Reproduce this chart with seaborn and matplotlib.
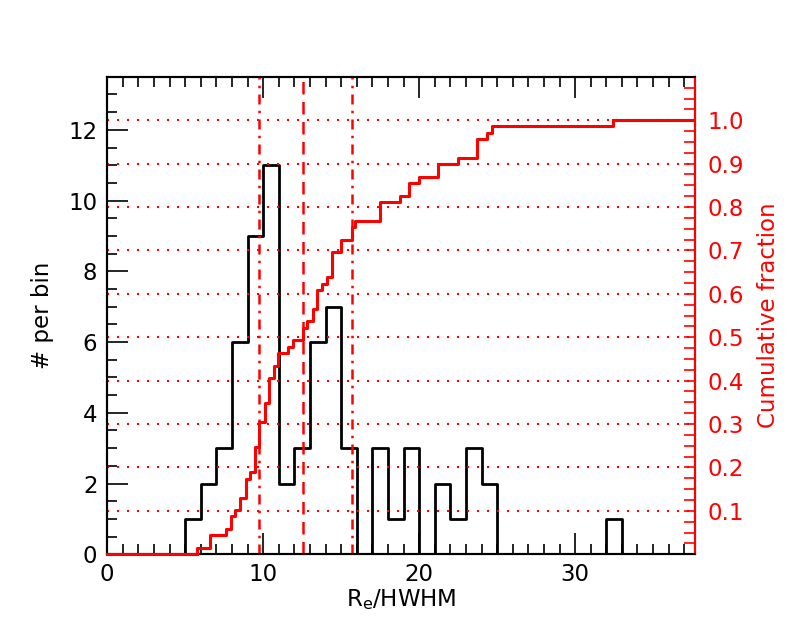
import numpy as np
import pandas as pd
import seaborn as sns
import matplotlib
matplotlib.use("Agg")
import matplotlib.pyplot as plt
from matplotlib.ticker import MultipleLocator

re_values = [5.75, 6.60, 7.63, 7.93, 8.21, 8.53, 8.87, 9.17, 9.45, 9.76,
             10.09, 10.40, 10.70, 10.95, 11.60, 11.90, 12.55, 12.84, 13.18, 13.48,
             13.76, 14.08, 14.40, 14.97, 15.68, 15.90, 17.50, 18.78, 19.38, 19.98,
             21.24, 22.48, 23.70, 24.34, 24.66, 32.40]
re_counts = [1, 2, 1, 2, 1, 2, 3, 1, 4, 4,
             3, 4, 2, 2, 1, 1, 2, 1, 2, 3,
             1, 1, 4, 2, 2, 1, 3, 1, 2, 1,
             2, 1, 3, 1, 1, 1]

x_ticks = [0, 10, 20, 30]
left_ticks = [0, 2, 4, 6, 8, 10, 12]
right_ticks = [0.1, 0.2, 0.3, 0.4, 0.5, 0.6, 0.7, 0.8, 0.9, 1.0]
x_max = 37.7

df = pd.DataFrame({"re": np.repeat(re_values, re_counts)})
q25, q50, q75 = np.percentile(df["re"], [25, 50, 75])

plt.rcParams['font.family'] = ['DejaVu Sans']
fs = 16.5
fig = plt.figure(figsize=(8, 6.4), dpi=100)
ax = fig.add_axes([0.134, 0.134, 0.735, 0.746])
ax2 = ax.twinx()

sns.histplot(data=df, x="re", bins=np.arange(0, 38, 1), element="step", fill=False,
             color="black", linewidth=2, ax=ax)
sns.ecdfplot(data=df, x="re", color="red", linewidth=2.2, ax=ax2, zorder=3)
# ecdf tails out to the axis edges
ax2.plot([0, df["re"].min()], [0, 0], color="red", linewidth=2.2, zorder=4, clip_on=False)
ax2.plot([df["re"].max(), x_max], [1, 1], color="red", linewidth=2.2, zorder=3)

dashdot = (0, (4, 2.5, 1, 2.5))
ax.axvline(q25, color="red", linewidth=1.8, linestyle=dashdot)
ax.axvline(q50, color="red", linewidth=1.8, linestyle=(0, (5, 3)))
ax.axvline(q75, color="red", linewidth=1.8, linestyle=dashdot)

ax.set_xlim(0, x_max)
ax.set_ylim(0, 13.5)
ax2.set_ylim(0, 1.1)

ax.set_xticks(x_ticks)
ax.set_yticks(left_ticks)
ax.xaxis.set_minor_locator(MultipleLocator(1))
ax.yaxis.set_minor_locator(MultipleLocator(0.5))
ax.tick_params(axis="both", which="both", direction="in", labelsize=fs)
ax.tick_params(axis="x", which="both", top=True, pad=6)
ax.tick_params(axis="y", which="both", right=False, pad=7)
ax.tick_params(which="major", length=15, width=1.2)
ax.tick_params(which="minor", length=7.5, width=1.2)

ax2.set_yticks(right_ticks)
ax2.set_yticklabels([f"{t:.1f}" for t in right_ticks])
ax2.yaxis.set_minor_locator(MultipleLocator(0.025))
ax2.tick_params(axis="y", which="both", direction="in", colors="red", labelsize=fs,
                length=8, width=1.2, pad=9)
ax2.yaxis.grid(True, which="major", color="red", linestyle=(0, (1, 3.8)), linewidth=1.5)
ax2.spines["right"].set_color("red")

for a in (ax, ax2):
    for s in a.spines.values():
        s.set_linewidth(1.5)

ax.set_xlabel("R$_\\mathregular{e}$/HWHM", fontsize=fs, labelpad=1)
ax.set_ylabel("# per bin", fontsize=fs, labelpad=10)
ax2.set_ylabel("Cumulative fraction", fontsize=fs, color="red", labelpad=9)

fig.savefig("out.png", dpi=100)
